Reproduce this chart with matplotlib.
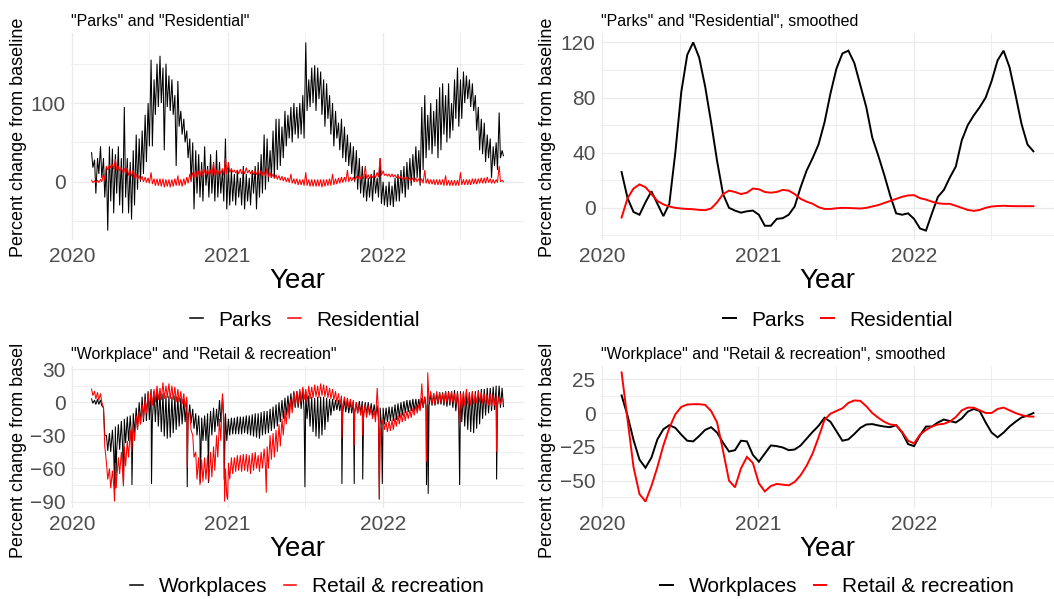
import matplotlib
matplotlib.use("Agg")
import matplotlib.pyplot as plt
import matplotlib.dates as mdates
from matplotlib.lines import Line2D
from matplotlib.ticker import MultipleLocator
from matplotlib.transforms import Bbox, TransformedBbox
import pandas as pd

plt.rcParams['font.family'] = ['Liberation Sans', 'DejaVu Sans']

# Daily mobility, kept as one weekend value and one midweek value per week
WEEK_START = '2020-02-15'

parks_hi = [37, 28, 30, 45, 30, 20, 45, 42, 35, 45,
            30, 95, 30, 25, 40, 60, 55, 65, 85, 100,
            155, 130, 150, 160, 145, 150, 135, 130, 110, 128,
            90, 80, 65, 55, 50, 40, 35, 25, 45, 20,
            35, 25, 40, 25, 15, 55, 20, 15, 10, 15,
            5, 20, 10, 5, 15, 20, 25, 35, 60, 55,
            40, 65, 80, 80, 70, 90, 85, 95, 100, 95,
            100, 110, 177, 130, 145, 148, 145, 140, 130, 125,
            110, 100, 90, 75, 80, 70, 60, 50, 45, 40,
            30, 20, 10, 5, 10, 15, 5, 30, 0, -5,
            0, -5, 5, 10, 15, 20, 25, 30, 35, 45,
            40, 95, 110, 85, 100, 90, 105, 120, 125, 110,
            125, 100, 130, 145, 130, 140, 135, 130, 125, 110,
            95, 80, 75, 60, 55, 45, 50, 88, 40]
parks_lo = [18, -15, 10, 5, -20, -62, -25, -40, -15, -30,
            -40, -20, -40, -48, -30, -10, 0, 10, 25, 45,
            45, 85, 95, 100, 40, 95, 90, 85, 20, 70,
            60, 50, 30, 0, -35, -15, -20, -25, -5, -20,
            -15, -25, -20, -15, -25, -35, -30, -25, -30, -20,
            -30, -35, -25, -30, -15, -35, -20, -15, -10, 0,
            5, 5, 15, 20, 30, 45, 55, 50, 60, 55,
            60, 55, 90, 95, 100, 90, 105, 85, 70, 80,
            60, 45, 55, 40, 30, 25, 20, 10, 0, -10,
            -15, -20, -25, -20, -25, -15, -20, -28, -30, -32,
            -30, -32, -25, -25, -15, -20, -10, -5, 0, 5,
            -5, 15, 30, 40, 35, 45, 30, 40, 60, 50,
            55, 65, 80, 70, 80, 100, 105, 95, 90, 65,
            40, 35, 25, 30, 5, 20, 15, 30, 33]

resid_hi = [2, 1, 2, 3, 10, 20, 22, 22, 29, 20,
            18, 17, 18, 14, 15, 10, 8, 7, 6, 5,
            12, 4, 4, 4, 4, 3, 3, 3, 4, 8,
            3, 4, 6, 10, 12, 14, 14, 16, 15, 16,
            15, 24, 15, 15, 17, 30, 25, 17, 15, 15,
            16, 15, 18, 15, 14, 14, 15, 14, 13, 17,
            12, 10, 9, 8, 7, 6, 5, 10, 4, 4,
            3, 3, 12, 3, 3, 3, 3, 3, 3, 3,
            4, 10, 4, 5, 6, 6, 15, 6, 6, 7,
            8, 8, 20, 9, 9, 9, 12, 30, 14, 10,
            10, 10, 9, 8, 7, 6, 6, 5, 5, 5,
            4, 4, 15, 4, 3, 3, 3, 3, 3, 8,
            2, 2, 2, 2, 12, 3, 3, 3, 4, 4,
            4, 5, 5, 6, 4, 3, 3, 20, 2]
resid_lo = [-1, -1, -1, 0, 2, 15, 18, 16, 14, 14,
            12, 10, 8, 7, 5, 3, 2, 0, -1, -2,
            -3, -5, -5, -6, -7, -6, -7, -6, -5, -5,
            -6, -4, -2, 2, 5, 6, 7, 8, 9, 9,
            8, 8, 9, 10, 8, 10, 12, 12, 11, 10,
            10, 10, 11, 10, 9, 9, 8, 8, 7, 6,
            5, 4, 3, 2, 1, 0, -1, -2, -3, -4,
            -4, -5, -5, -6, -6, -6, -6, -7, -6, -5,
            -5, -4, -3, -2, -1, 0, 0, 1, 2, 3,
            3, 4, 4, 4, 5, 5, 6, 8, 8, 7,
            6, 6, 5, 4, 3, 3, 2, 1, 0, 0,
            -1, -2, -2, -3, -3, -4, -4, -4, -5, -5,
            -5, -5, -5, -5, -4, -4, -4, -4, -3, -3,
            -2, -2, -2, -1, -2, -2, -1, 0, 0]

work_hi = [3, 2, 3, 2, -5, -30, -28, -25, -22, -20,
           -17, -15, -13, -12, -10, -5, 0, 5, 8, 10,
           12, 10, 12, 10, 8, 6, 6, 5, 6, 5,
           4, 3, 2, -2, -6, -10, -12, -14, -12, -10,
           -8, -5, -6, 2, 5, -10, -15, -14, -14, -13,
           -13, -13, -12, -12, -11, -10, -10, -9, -8, -8,
           -6, -4, -2, 0, 2, 4, 6, 8, 10, 10,
           10, 12, 10, 6, 5, 4, 5, 5, 5, 4,
           3, 3, 2, 2, 3, 2, 2, 1, 1, 0,
           1, 1, 0, 0, -1, -2, -3, -5, -5, -5,
           -4, -4, -2, -1, 0, 1, 2, 2, 3, 3,
           3, 4, 5, 6, 7, 8, 8, 9, 9, 10,
           10, 10, 11, 10, 10, 9, 9, 9, 10, 10,
           11, 12, 12, 13, 13, 14, 15, 15, 13]
work_lo = [-1, -2, -2, -3, -30, -44, -45, -45, -44, -43,
           -40, -37, -35, -32, -28, -24, -20, -18, -17, -16,
           -16, -18, -22, -27, -31, -33, -32, -28, -25, -22,
           -20, -18, -17, -19, -24, -30, -33, -35, -35, -33,
           -30, -27, -22, -18, -15, -35, -30, -29, -29, -29,
           -29, -28, -29, -30, -31, -32, -33, -30, -29, -28,
           -26, -24, -22, -18, -15, -12, -9, -7, -5, -5,
           -6, -8, -15, -22, -27, -31, -33, -30, -25, -18,
           -12, -8, -7, -8, -9, -9, -10, -10, -10, -10,
           -10, -10, -11, -11, -12, -13, -16, -20, -20, -18,
           -17, -17, -16, -14, -12, -10, -9, -8, -8, -7,
           -6, -5, -4, -3, -3, -3, -2, -2, -3, -4,
           -3, -5, -8, -12, -18, -22, -25, -27, -28, -24,
           -20, -15, -12, -10, -8, -7, -6, -5, -4]
work_dip_dates = ['2020-04-10', '2020-04-13', '2020-05-01', '2020-05-21',
                  '2020-07-06', '2020-09-28', '2020-10-29', '2020-11-17',
                  '2020-12-24', '2021-07-02', '2021-09-27', '2021-10-26',
                  '2021-11-15', '2021-12-24', '2021-12-31', '2022-04-14',
                  '2022-04-18', '2022-07-01', '2022-09-26']
work_dip_values = [-78, -76, -76, -75, -74, -77, -73, -73, -70, -77, -74,
                   -74, -70, -88, -74, -75, -83, -75, -70]

retail_hi = [12, 10, 9, 8, -5, -55, -60, -62, -55, -50,
             -45, -40, -35, -25, -20, -12, -8, -2, 3, 8,
             10, 12, 15, 13, 18, 15, 17, 15, 14, 12,
             10, 8, 5, -10, -30, -45, -50, -52, -50, -48,
             -45, -40, -30, -15, 8, -60, -55, -50, -50, -48,
             -48, -47, -47, -48, -46, -45, -48, -45, -42, -40,
             -30, -28, -25, -20, -15, -8, -2, 3, 8, 10,
             12, 14, 12, 15, 14, 16, 15, 17, 16, 15,
             13, 12, 10, 8, 6, 5, 4, 3, 2, 0,
             -2, -3, -2, -3, -5, -8, 13, -30, -15, -18,
             -17, -16, -14, -12, -10, -9, -8, -7, -5, -3,
             -2, 17, 5, 27, 10, 8, 10, 9, 8, 10,
             9, 10, 8, 9, 8, 10, 12, 9, 10, 8,
             10, 9, 8, 7, 8, 7, 6, 5, 4]
retail_lo = [6, 3, 2, 0, -40, -70, -78, -75, -70, -65,
             -62, -58, -50, -45, -35, -25, -20, -15, -10, -5,
             -3, 0, 2, 2, 3, 4, 3, 2, 0, 0,
             -2, -5, -10, -25, -50, -70, -75, -72, -70, -72,
             -68, -62, -50, -35, -15, -85, -70, -65, -63, -62,
             -63, -62, -63, -65, -62, -60, -63, -60, -58, -60,
             -52, -50, -45, -40, -30, -20, -15, -10, -3, -2,
             0, 2, 0, 3, 4, 5, 4, 6, 5, 4,
             3, 2, 0, -2, -3, -4, -5, -6, -8, -10,
             -12, -13, -14, -12, -15, -18, -10, -22, -25, -27,
             -26, -25, -22, -20, -18, -17, -15, -14, -12, -10,
             -8, -5, -8, 0, -2, -2, -1, 0, -1, 0,
             -1, 0, -2, -3, -5, -3, -2, -3, -2, -1,
             0, -1, -2, -3, -4, -3, -2, -2, 0]
retail_dip_dates = ['2020-04-10', '2020-04-13', '2020-05-01', '2020-09-28',
                    '2020-12-25', '2021-01-01', '2021-04-02', '2021-09-27',
                    '2021-10-26', '2021-11-15', '2021-12-24', '2022-04-14',
                    '2022-07-01', '2022-09-26']
retail_dip_values = [-90, -78, -76, -60, -90, -88, -82, -33, -39, -30, -88,
                     -54, -22, -45]

# Smoothed series, one value every two weeks
SMOOTH_START = '2020-02-15'
parks_smooth = [26, 7, -3, -5, 4, 12, 3, -6, 3, 40,
                84, 111, 120, 109, 88, 62, 34, 10, 0, -2,
                -3.5, -2.5, -2, -5, -13, -13, -8, -7.5, -5, 1,
                15, 27, 36, 46, 62, 83, 101, 112, 114, 105,
                89, 73, 51, 38, 24, 9, -4, -5, -4, -8,
                -15, -16.5, -4, 8, 13, 22, 30, 49, 60, 67,
                73, 80, 92, 107, 114, 102, 82, 61, 46, 41]
resid_smooth = [-7, 7, 14, 17, 15, 10, 5, 2.5, 1, 0,
                -0.5, -0.8, -1, -1.5, -1.7, -0.5, 4, 10, 12.5, 11.5,
                10, 11, 14, 13.5, 11.5, 11, 11.5, 13, 12.5, 10,
                6.5, 4.5, 3, 0.5, -0.8, -0.8, -0.3, 0, -0.1, -0.3,
                -0.5, 0, 1, 2, 3.5, 5, 6.5, 8, 9, 9.2,
                7, 6, 4.5, 3.3, 2.9, 2.9, 1.5, 0, -1.5, -2.2,
                -1.5, 0, 1, 1.3, 1.5, 1.3, 1.2, 1.2, 1.2, 1.2]
work_smooth = [13, -2, -20, -34.5, -40.5, -33, -19.5, -12, -9, -11,
               -16, -20.5, -21, -17, -12.5, -10.5, -14.5, -22, -28.5, -27.5,
               -20.5, -21, -31, -36, -30, -24, -24.5, -25.5, -27.5, -27,
               -24, -19, -14, -9.5, -3.5, -6.5, -13.5, -20.5, -19.5, -15.5,
               -11, -8.5, -8.2, -9.2, -10, -10.5, -9, -14.5, -23, -24.5,
               -16.5, -10, -10, -7, -4.8, -6, -7, -4, 1, 3,
               1.5, -7, -14.5, -18, -14.5, -10, -6.5, -3.3, -2, 0]
retail_smooth = [30, -5, -40, -60, -65.5, -54, -40, -24, -11, -1,
                 4.5, 6.3, 6.5, 6.5, 6, 1.5, -7, -28, -50, -55,
                 -41, -32.5, -37, -52, -58, -54, -52.5, -53, -53.5, -51,
                 -46, -39, -30, -18, -5, -0.5, 1.5, 3.5, 7.5, 9.3,
                 9, 5, 0, -3.5, -6.5, -8.5, -9, -14, -20.5, -22.5,
                 -16, -12.5, -10, -8.5, -8, -6.3, -3, 2, 4, 4,
                 2, 0, 0, 3, 4, 2, 0, -1.5, -2.5, -2.7]

W, H = 1054, 599
GRID = '#EBEBEB'
TICK = '#4D4D4D'


def weekly_series(hi, lo, dip_dates=(), dip_values=()):
    starts = pd.date_range(WEEK_START, periods=len(hi), freq='7D')
    parts = [pd.Series(hi, index=starts + pd.Timedelta(days=1)),
             pd.Series(lo, index=starts + pd.Timedelta(days=4))]
    if len(dip_dates):
        parts.append(pd.Series(dip_values, index=pd.to_datetime(dip_dates)))
    return pd.concat(parts).sort_index()


def smooth_series(values):
    idx = pd.date_range(SMOOTH_START, periods=len(values), freq='14D')
    return pd.Series(values, index=idx)


def px_axes(left, top, right, bottom):
    return fig.add_axes([left / W, 1 - bottom / H, (right - left) / W, (bottom - top) / H])


def expand(lo, hi, f=0.05):
    span = hi - lo
    return lo - f * span, hi + f * span


def style(ax, series, major, minor, title):
    xs = [mdates.date2num(s.index) for s in series]
    ax.set_xlim(*expand(min(x.min() for x in xs), max(x.max() for x in xs)))
    ax.set_ylim(*expand(min(s.min() for s in series), max(s.max() for s in series)))
    ax.xaxis.set_major_locator(mdates.YearLocator())
    ax.xaxis.set_minor_locator(mdates.MonthLocator(bymonth=7))
    ax.xaxis.set_major_formatter(mdates.DateFormatter('%Y'))
    ax.yaxis.set_major_locator(MultipleLocator(major))
    ax.yaxis.set_minor_locator(MultipleLocator(minor))
    ax.grid(which='major', color=GRID, lw=0.9)
    ax.grid(which='minor', color=GRID, lw=0.6)
    ax.set_axisbelow(True)
    for sp in ax.spines.values():
        sp.set_visible(False)
    ax.tick_params(which='both', length=0)
    ax.tick_params(axis='x', pad=5, labelsize=15, labelcolor=TICK)
    ax.tick_params(axis='y', pad=4, labelsize=15, labelcolor=TICK)
    ax.set_title(title, loc='left', fontsize=11.5, pad=5)


fig = plt.figure(figsize=(W / 100, H / 100), dpi=100)

parks = weekly_series(parks_hi, parks_lo)
resid = weekly_series(resid_hi, resid_lo)
work = weekly_series(work_hi, work_lo, work_dip_dates, work_dip_values)
retail = weekly_series(retail_hi, retail_lo, retail_dip_dates, retail_dip_values)
parks_s = smooth_series(parks_smooth)
resid_s = smooth_series(resid_smooth)
work_s = smooth_series(work_smooth)
retail_s = smooth_series(retail_smooth)

panels = [
    (px_axes(71, 33, 524, 240), [parks, resid], 0.75, 100, 50,
     '"Parks" and "Residential"', ['Parks', 'Residential']),
    (px_axes(601, 33, 1054, 240), [parks_s, resid_s], 1.4, 40, 20,
     '"Parks" and "Residential", smoothed', ['Parks', 'Residential']),
    (px_axes(71, 366, 524, 508), [work, retail], 0.75, 30, 15,
     '"Workplace" and "Retail & recreation"', ['Workplaces', 'Retail & recreation']),
    (px_axes(601, 366, 1054, 508), [work_s, retail_s], 1.4, 25, 12.5,
     '"Workplace" and "Retail & recreation", smoothed', ['Workplaces', 'Retail & recreation']),
]
legend_pos = [(305, 320), (838, 320), (307, 587), (837, 587)]
ylabel_pos = [(18.5, 137.5), (547, 137.5), (18.5, 438.5), (547, 438.5)]
year_pos = [(297.5, 288), (827.5, 288), (297.5, 556), (827.5, 556)]

for i, (ax, series, lw, major, minor, title, names) in enumerate(panels):
    for s, c in zip(series, ['black', 'red']):
        ax.plot(s.index, s.values, color=c, lw=lw, solid_joinstyle='miter')
    style(ax, series, major, minor, title)

    key_lw = max(lw, 1.1)
    handles = [Line2D([], [], color='black', lw=key_lw),
               Line2D([], [], color='red', lw=key_lw)]
    lx, ly = legend_pos[i]
    fig.legend(handles, names, loc='center', bbox_to_anchor=(lx / W, 1 - ly / H),
               ncol=2, frameon=False, fontsize=15, handlelength=0.6,
               handletextpad=0.75, columnspacing=0.8, borderpad=0, borderaxespad=0)

    yx, yy = ylabel_pos[i]
    lab = fig.text(yx / W, 1 - yy / H, 'Percent change from baseline', rotation=90,
                   ha='center', va='center', fontsize=13)
    if i >= 2:
        # the lower row cell starts below the upper legends
        lab.set_clip_box(TransformedBbox(Bbox.from_extents(0, 0, 1, 1 - 342.5 / H),
                                         fig.transFigure))
        lab.set_clip_on(True)

    xx, xy = year_pos[i]
    fig.text(xx / W, 1 - xy / H, 'Year', ha='center', va='baseline', fontsize=20)

fig.savefig('out.png', dpi=100)
